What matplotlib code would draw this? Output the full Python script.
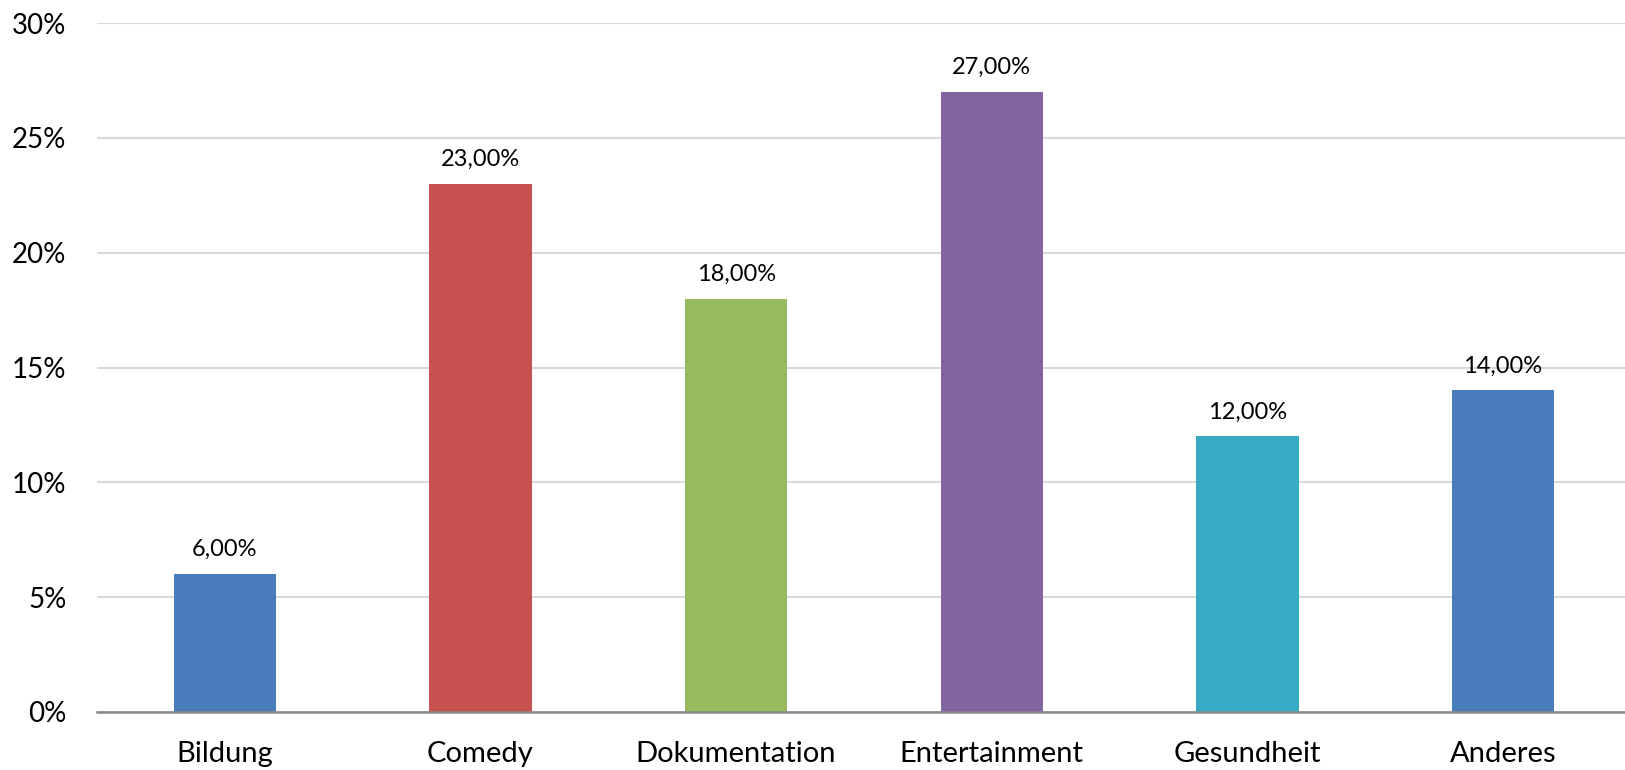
import matplotlib.pyplot as plt
from matplotlib.ticker import FuncFormatter

categories = ["Bildung", "Comedy", "Dokumentation", "Entertainment", "Gesundheit", "Anderes"]
values = [6, 23, 18, 27, 12, 14]
colors = ["#4A7EBB", "#C8524F", "#98BA5E", "#8264A0", "#37AAC4", "#4A7EBB"]
yticks = [0, 5, 10, 15, 20, 25, 30]

plt.rcParams['font.family'] = ['Lato', 'DejaVu Sans']

fig = plt.figure(figsize=(16.25, 7.7), dpi=100)
ax = fig.add_axes([97 / 1625, 58 / 770, 1528 / 1625, 689 / 770])

x = list(range(len(categories)))
bars = ax.bar(x, values, width=0.40, color=colors, zorder=3)

for xi, v in zip(x, values):
    ax.annotate(f"{v:.2f}".replace(".", ",") + "%", (xi, v),
                xytext=(0, 10), textcoords="offset points",
                ha="center", va="bottom", fontsize=17, color="#000000")

ax.set_xlim(-0.5, 5.477)
ax.set_ylim(0, 30)
ax.set_yticks(yticks)
ax.yaxis.set_major_formatter(FuncFormatter(lambda v, p: f"{v:.0f}%"))
ax.set_xticks(x)
ax.set_xticklabels(categories)
ax.tick_params(axis="y", length=0, pad=22, labelsize=20)
ax.tick_params(axis="x", length=0, pad=21, labelsize=21)

ax.grid(axis="y", color="#D9D9D9", linewidth=1.5, zorder=0)
for side in ["top", "right", "left"]:
    ax.spines[side].set_visible(False)
ax.spines["bottom"].set_color("#898989")
ax.spines["bottom"].set_linewidth(1.8)
ax.spines["bottom"].set_zorder(4)

fig.savefig("out.png", dpi=100)
